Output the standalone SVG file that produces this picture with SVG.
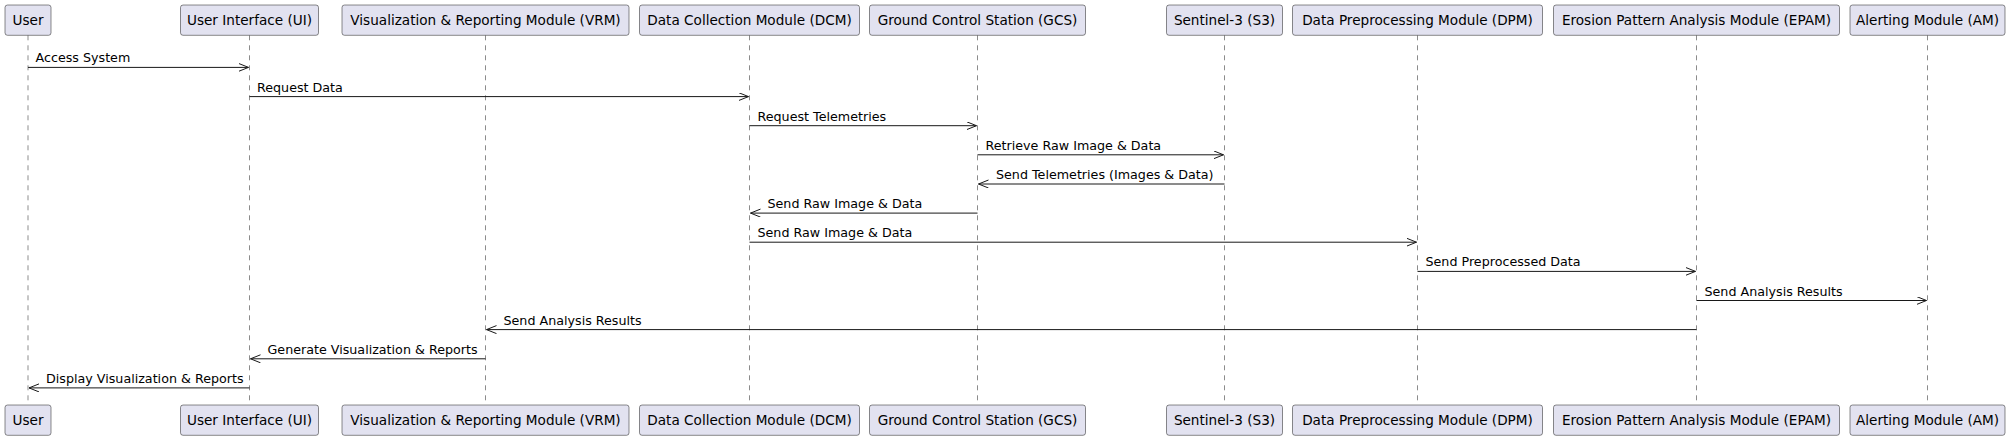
<svg xmlns="http://www.w3.org/2000/svg" width="2011" height="440" viewBox="0 0 2011 440">
<defs>
<style>
.box{fill:#E2E2F0;stroke:#181818;stroke-width:0.5}
.pt{font-family:"DejaVu Sans",sans-serif;font-size:13.6px;fill:#000000;text-anchor:middle}
.life{stroke:#181818;stroke-width:0.5;stroke-dasharray:5,5}
.msg{stroke:#181818;stroke-width:1;fill:none;marker-end:url(#arr)}
.ml{font-family:"DejaVu Sans",sans-serif;font-size:12.7px;fill:#000000}
</style>
<marker id="arr" markerUnits="userSpaceOnUse" markerWidth="12" markerHeight="10" refX="10" refY="4" orient="auto">
<path d="M0,0 L10,4 L0,8" fill="none" stroke="#181818" stroke-width="1"/>
</marker>
</defs>
<rect width="2011" height="440" fill="#FFFFFF"/>
<g id="lifelines">
<line class="life" x1="28" y1="35.3" x2="28" y2="405"/>
<line class="life" x1="249.5" y1="35.3" x2="249.5" y2="405"/>
<line class="life" x1="485.5" y1="35.3" x2="485.5" y2="405"/>
<line class="life" x1="749.5" y1="35.3" x2="749.5" y2="405"/>
<line class="life" x1="977.5" y1="35.3" x2="977.5" y2="405"/>
<line class="life" x1="1224.5" y1="35.3" x2="1224.5" y2="405"/>
<line class="life" x1="1417.5" y1="35.3" x2="1417.5" y2="405"/>
<line class="life" x1="1696.5" y1="35.3" x2="1696.5" y2="405"/>
<line class="life" x1="1927.5" y1="35.3" x2="1927.5" y2="405"/>
</g>
<g id="user">
<rect class="box" x="5" y="5" width="46" height="30.3" rx="2.5"/><text class="pt" x="28" y="25">User</text>
<rect class="box" x="5" y="405" width="46" height="30.3" rx="2.5"/><text class="pt" x="28" y="425">User</text>
</g>
<g id="ui">
<rect class="box" x="180.5" y="5" width="138" height="30.3" rx="2.5"/><text class="pt" x="249.5" y="25">User Interface (UI)</text>
<rect class="box" x="180.5" y="405" width="138" height="30.3" rx="2.5"/><text class="pt" x="249.5" y="425">User Interface (UI)</text>
</g>
<g id="vrm">
<rect class="box" x="342" y="5" width="287" height="30.3" rx="2.5"/><text class="pt" x="485.5" y="25">Visualization &amp; Reporting Module (VRM)</text>
<rect class="box" x="342" y="405" width="287" height="30.3" rx="2.5"/><text class="pt" x="485.5" y="425">Visualization &amp; Reporting Module (VRM)</text>
</g>
<g id="dcm">
<rect class="box" x="639.5" y="5" width="220" height="30.3" rx="2.5"/><text class="pt" x="749.5" y="25">Data Collection Module (DCM)</text>
<rect class="box" x="639.5" y="405" width="220" height="30.3" rx="2.5"/><text class="pt" x="749.5" y="425">Data Collection Module (DCM)</text>
</g>
<g id="gcs">
<rect class="box" x="869.5" y="5" width="216" height="30.3" rx="2.5"/><text class="pt" x="977.5" y="25">Ground Control Station (GCS)</text>
<rect class="box" x="869.5" y="405" width="216" height="30.3" rx="2.5"/><text class="pt" x="977.5" y="425">Ground Control Station (GCS)</text>
</g>
<g id="s3">
<rect class="box" x="1166.5" y="5" width="116" height="30.3" rx="2.5"/><text class="pt" x="1224.5" y="25">Sentinel-3 (S3)</text>
<rect class="box" x="1166.5" y="405" width="116" height="30.3" rx="2.5"/><text class="pt" x="1224.5" y="425">Sentinel-3 (S3)</text>
</g>
<g id="dpm">
<rect class="box" x="1292.5" y="5" width="250" height="30.3" rx="2.5"/><text class="pt" x="1417.5" y="25">Data Preprocessing Module (DPM)</text>
<rect class="box" x="1292.5" y="405" width="250" height="30.3" rx="2.5"/><text class="pt" x="1417.5" y="425">Data Preprocessing Module (DPM)</text>
</g>
<g id="epam">
<rect class="box" x="1553.5" y="5" width="286" height="30.3" rx="2.5"/><text class="pt" x="1696.5" y="25">Erosion Pattern Analysis Module (EPAM)</text>
<rect class="box" x="1553.5" y="405" width="286" height="30.3" rx="2.5"/><text class="pt" x="1696.5" y="425">Erosion Pattern Analysis Module (EPAM)</text>
</g>
<g id="am">
<rect class="box" x="1850" y="5" width="155" height="30.3" rx="2.5"/><text class="pt" x="1927.5" y="25">Alerting Module (AM)</text>
<rect class="box" x="1850" y="405" width="155" height="30.3" rx="2.5"/><text class="pt" x="1927.5" y="425">Alerting Module (AM)</text>
</g>
<g id="connectors">
<line class="msg" x1="28" y1="67.4" x2="248.5" y2="67.4"/><text class="ml" x="35.5" y="62.4">Access System</text>
<line class="msg" x1="249.5" y1="96.6" x2="748.5" y2="96.6"/><text class="ml" x="257" y="91.6">Request Data</text>
<line class="msg" x1="749.5" y1="125.7" x2="976.5" y2="125.7"/><text class="ml" x="757.5" y="120.7">Request Telemetries</text>
<line class="msg" x1="977.5" y1="154.8" x2="1223.5" y2="154.8"/><text class="ml" x="985.5" y="149.8">Retrieve Raw Image &amp; Data</text>
<line class="msg" x1="1224.5" y1="184" x2="978.5" y2="184"/><text class="ml" x="996" y="179">Send Telemetries (Images &amp; Data)</text>
<line class="msg" x1="977.5" y1="213.1" x2="750.5" y2="213.1"/><text class="ml" x="767.5" y="208.1">Send Raw Image &amp; Data</text>
<line class="msg" x1="749.5" y1="242.2" x2="1416.5" y2="242.2"/><text class="ml" x="757.5" y="237.2">Send Raw Image &amp; Data</text>
<line class="msg" x1="1417.5" y1="271.4" x2="1695.5" y2="271.4"/><text class="ml" x="1425.5" y="266.4">Send Preprocessed Data</text>
<line class="msg" x1="1696.5" y1="300.5" x2="1926.5" y2="300.5"/><text class="ml" x="1704.5" y="295.5">Send Analysis Results</text>
<line class="msg" x1="1696.5" y1="329.6" x2="486.5" y2="329.6"/><text class="ml" x="503.5" y="324.6">Send Analysis Results</text>
<line class="msg" x1="485.5" y1="358.8" x2="250.5" y2="358.8"/><text class="ml" x="267.5" y="353.8">Generate Visualization &amp; Reports</text>
<line class="msg" x1="249.5" y1="387.9" x2="29" y2="387.9"/><text class="ml" x="46" y="382.9">Display Visualization &amp; Reports</text>
</g>
</svg>
